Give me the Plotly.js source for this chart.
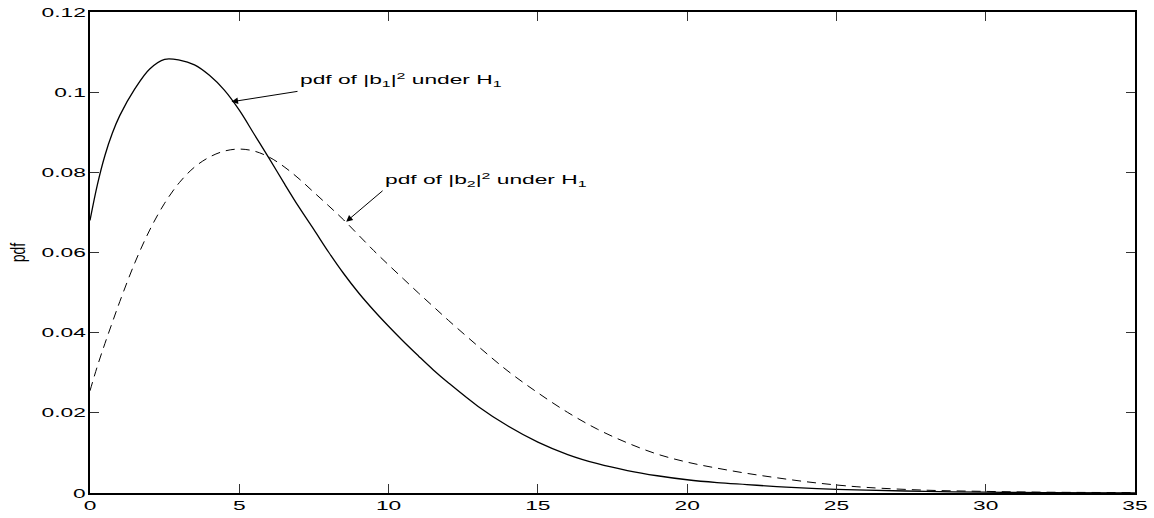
<!DOCTYPE html>
<html>
<head>
<meta charset="utf-8">
<script src="https://cdn.plot.ly/plotly-3.0.1.min.js"></script>
<style>
  html, body { margin: 0; padding: 0; background: #fff; }
  #chart { width: 1154px; height: 518px; }
</style>
</head>
<body>
<div id="chart"></div>
<script>
// Sample positions along the x axis
const xValues = [0, 0.25, 0.5, 0.75, 1, 1.5, 2, 2.5, 3, 3.5, 4, 4.5, 5, 5.5, 6, 6.5, 7, 7.5, 8, 8.5, 9, 9.5,
                 10, 10.5, 11, 11.5, 12, 13, 14, 15, 16, 17, 18, 19, 20, 21, 22, 23, 24, 25, 26, 28, 30, 32, 35];

// pdf of |b1|^2 under H1 (solid)
const pdfB1 = [0.0680, 0.0770, 0.0842, 0.0898, 0.0942, 0.1008, 0.1058, 0.1082, 0.1080, 0.1068, 0.1042, 0.1005,
               0.0955, 0.0895, 0.0835, 0.0773, 0.0713, 0.0657, 0.0600, 0.0547, 0.0499, 0.0456,
               0.0416, 0.0378, 0.0342, 0.0307, 0.0275, 0.0216, 0.0167, 0.0127, 0.0096, 0.0073, 0.0056, 0.0043,
               0.0033, 0.0026, 0.0021, 0.0016, 0.0012, 0.0009, 0.0007, 0.0004, 0.0002, 0.0001, 0.00004];

// pdf of |b2|^2 under H1 (dashed)
const pdfB2 = [0.0255, 0.0317, 0.0373, 0.0426, 0.0478, 0.0574, 0.0656, 0.0723, 0.0775, 0.0813, 0.0838, 0.0853,
               0.0858, 0.0853, 0.0838, 0.0814, 0.0784, 0.0750, 0.0716, 0.0681, 0.0643, 0.0605,
               0.0569, 0.0534, 0.0499, 0.0465, 0.0431, 0.0366, 0.0304, 0.0250, 0.0201, 0.0159, 0.0125, 0.0097,
               0.0077, 0.0062, 0.0049, 0.0038, 0.0028, 0.0020, 0.0014, 0.0007, 0.0004, 0.0002, 0.0001];

// Axis ticks
const xTicks = [0, 5, 10, 15, 20, 25, 30, 35];
const yTicks = [0, 0.02, 0.04, 0.06, 0.08, 0.1, 0.12];

// Annotation labels: [text, arrow head x, arrow head y, arrow tail x, arrow tail y]
const labels = [
  ['pdf of |b<sub>1</sub>|<sup>2</sup> under H<sub>1</sub>', 4.74, 0.0976, 6.95, 0.1002],
  ['pdf of |b<sub>2</sub>|<sup>2</sup> under H<sub>1</sub>', 8.58, 0.0677, 9.80, 0.0754]
];

const FONT = 'Liberation Sans, Arial, Helvetica, sans-serif';
const STRETCH = 1.75;

const traces = [
  {
    x: xValues, y: pdfB1, type: 'scatter', mode: 'lines',
    line: { color: '#000', width: 1.3, shape: 'spline', smoothing: 1 },
    hoverinfo: 'skip'
  },
  {
    x: xValues, y: pdfB2, type: 'scatter', mode: 'lines',
    line: { color: '#000', width: 1, dash: '9px,6px', shape: 'spline', smoothing: 1 },
    hoverinfo: 'skip'
  }
];

const axisCommon = {
  showgrid: false, zeroline: false,
  showline: true, linecolor: '#000', linewidth: 1.6, mirror: 'ticks',
  ticks: 'inside', ticklen: 9, tickwidth: 1, tickcolor: '#333',
  tickfont: { family: FONT, size: 13, color: '#000' }
};

const layout = {
  width: 1154, height: 518,
  margin: { l: 90, r: 19, t: 12, b: 25 },
  paper_bgcolor: '#fff', plot_bgcolor: '#fff',
  showlegend: false,
  xaxis: Object.assign({}, axisCommon, {
    range: [0, 35], tickmode: 'array', tickvals: xTicks
  }),
  yaxis: Object.assign({}, axisCommon, {
    range: [0, 0.12], tickmode: 'array', tickvals: yTicks,
    title: { text: 'pdf', font: { family: FONT, size: 14, color: '#000' }, standoff: 34 }
  }),
  annotations: labels.map(l => ({
    text: l[0], x: l[1], y: l[2], ax: l[3], ay: l[4],
    xref: 'x', yref: 'y', axref: 'x', ayref: 'y',
    xanchor: 'left', yanchor: 'bottom', align: 'left',
    showarrow: true, arrowhead: 2, arrowsize: 1.3, arrowwidth: 1, arrowcolor: '#000',
    standoff: 0, startstandoff: 0,
    font: { family: FONT, size: 13, color: '#000' }
  }))
};

// Widen the lettering horizontally so labels keep the proportions of the printed figure
function widenText(gd) {
  gd.querySelectorAll('.xtick text, .ytick text, .annotation-text').forEach(t => {
    const len = t.getComputedTextLength();
    if (len > 0) {
      t.setAttribute('textLength', (len * STRETCH).toFixed(2));
      t.setAttribute('lengthAdjust', 'spacingAndGlyphs');
    }
  });
  // the rotated axis title is widened across its glyphs instead
  const yt = gd.querySelector('.ytitle');
  if (yt) {
    const b = yt.getBBox();
    const cy = b.y + b.height / 2;
    const prev = yt.getAttribute('transform') || '';
    yt.setAttribute('transform',
      prev + ` translate(0,${cy}) scale(1,1.45) translate(0,${-cy})`);
  }
}

Plotly.newPlot('chart', traces, layout, { staticPlot: true, displayModeBar: false })
  .then(widenText);
</script>
</body>
</html>
